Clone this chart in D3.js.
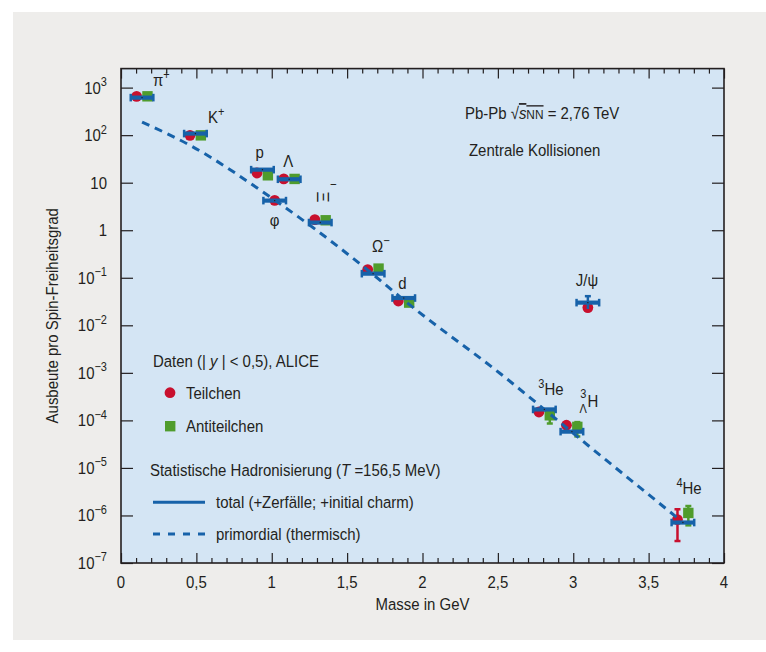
<!DOCTYPE html>
<html>
<head>
<meta charset="utf-8">
<script src="https://cdn.jsdelivr.net/npm/d3@7/dist/d3.min.js"></script>
<style>
body{margin:0;background:#fff;}
svg text{font-family:"Liberation Sans",Arial,sans-serif;fill:#231f20;}
</style>
</head>
<body>
<svg id="chart" width="766" height="652"></svg>
<script>
// particles, masses in GeV
var particles = ['pi','K','p','Lambda','phi','Xi','Omega','d','Jpsi','He3','H3L','He4'];
var masses = [0.1396, 0.4937, 0.9383, 1.1157, 1.0195, 1.3217, 1.6725, 1.8756, 3.0969, 2.8084, 2.9910, 3.7274];

// ALICE data, yield per spin dof
var particleYield = [656, 99, 16, 12, 4.26, 1.67, 0.149, 0.0324, 0.0236, 1.5e-4, 7.9e-5, 8.2e-7];
var antiYield = [656, 99, 14.3, 12, null, 1.62, 0.156, 0.030, null, 1.28e-4, 7.3e-5, 1.13e-6];
var particleErr = [null, null, null, null, null, null, null, null, null, null, null, [2.9e-7, 1.35e-6]];
var antiErr = [null, null, null, null, null, null, null, null, null, [8.6e-5, 1.7e-4], [4.6e-5, 9.2e-5], [6.2e-7, 1.58e-6]];

// statistical hadronisation model
var modelTotal = [616, 108, 18.8, 11.8, 4.2, 1.45, 0.122, 0.0375, 0.030, 1.7e-4, 5.8e-5, 7.1e-7];
var modelErr = [null, null, null, null, null, null, null, null, [0.022, 0.041], null, null, null];
var primordialMass = [0.140, 0.458, 1.021, 1.253, 1.638, 1.903, 2.513, 3.097, 3.687];
var primordialYield = [189, 61, 4.26, 1.27, 0.144, 0.029, 9.8e-4, 3.0e-5, 9.1e-7];

// axis ticks
var xMajor = [0, 0.5, 1, 1.5, 2, 2.5, 3, 3.5, 4];
var xLabels = ['0', '0,5', '1', '1,5', '2', '2,5', '3', '3,5', '4'];
var yExponents = [-7, -6, -5, -4, -3, -2, -1, 0, 1, 2, 3];

var blue = '#1762a9', red = '#c8102e', green = '#4f9c2c', ink = '#231f20';
var pL = 121, pR = 724, pT = 68.6, pB = 563;
var dm = 0.036;   // particle / antiparticle shifted left/right of the mass for readability
var fs = '17px', fsSup = '12.5px';
var squeeze = 0.88;  // the original uses a condensed face

var svg = d3.select('#chart');

svg.append('rect').attr('x',13).attr('y',12).attr('width',753).attr('height',628).style('fill','#eeedeb');
svg.append('rect').attr('x',pL).attr('y',pT).attr('width',pR-pL).attr('height',pB-pT).style('fill','#d4e5f4');

var x = d3.scaleLinear().domain([0,4]).range([pL,pR]);
var y = d3.scaleLog().domain([1e-7, Math.pow(10,3.4)]).range([pB,pT]);

// ticks
var xMinor = d3.range(0,4.001,0.1).filter(function(v){ return Math.abs(v*2-Math.round(v*2)) > 0.01; });
var yMajor = yExponents.map(function(e){ return Math.pow(10,e); });
var yMinor = y.ticks().filter(function(v){ return yMajor.every(function(m){ return Math.abs(v/m-1) > 1e-6; }); });

function tickAxis(axis, t, vals, size){
    var g = svg.append('g').attr('transform',t)
        .call(axis.tickValues(vals).tickSize(size).tickFormat(''));
    g.select('.domain').remove();
    g.selectAll('line').style('stroke',ink).style('stroke-width',1.2);
}
tickAxis(d3.axisBottom(x),'translate(0,'+pB+')',xMinor,-5);
tickAxis(d3.axisBottom(x),'translate(0,'+pB+')',xMajor,-10);
tickAxis(d3.axisTop(x),'translate(0,'+pT+')',xMinor,-5);
tickAxis(d3.axisTop(x),'translate(0,'+pT+')',xMajor,-10);
tickAxis(d3.axisLeft(y),'translate('+pL+',0)',yMinor,-6);
tickAxis(d3.axisLeft(y),'translate('+pL+',0)',yMajor,-12);
tickAxis(d3.axisRight(y),'translate('+pR+',0)',yMinor,-6);
tickAxis(d3.axisRight(y),'translate('+pR+',0)',yMajor,-12);

svg.append('rect').attr('x',pL).attr('y',pT).attr('width',pR-pL).attr('height',pB-pT)
    .style('fill','none').style('stroke',ink).style('stroke-width',1.6);

// tick labels
svg.selectAll('.xlab').data(xMajor).enter().append('text')
    .attr('x',function(d){ return x(d); }).attr('y',pB+25)
    .attr('text-anchor','middle').style('font-size',fs)
    .text(function(d,i){ return xLabels[i]; });

var ylab = svg.selectAll('.ylab').data(yExponents).enter().append('text')
    .attr('x',107).attr('y',function(d){ return y(Math.pow(10,d))+6; })
    .attr('text-anchor','end').style('font-size',fs);
ylab.each(function(e){
    var t = d3.select(this);
    if(e === 0){ t.text('1'); return; }
    if(e === 1){ t.text('10'); return; }
    t.append('tspan').text('10');
    t.append('tspan').attr('dy',-7.5).style('font-size',fsSup).text(e < 0 ? '\u2212'+(-e) : e);
});

svg.append('text').attr('x',(pL+pR)/2).attr('y',610).attr('text-anchor','middle')
    .style('font-size',fs).text('Masse in GeV');
svg.append('text').attr('transform','translate(58,'+((pT+pB)/2)+') rotate(-90)')
    .attr('text-anchor','middle').style('font-size',fs).text('Ausbeute pro Spin-Freiheitsgrad');

// data points
var idx = d3.range(particles.length);
function partX(i){ return x(masses[i] - (antiYield[i] === null ? 0 : dm)); }

function errBar(err, xf, color){
    svg.selectAll(null).data(idx.filter(function(i){ return err[i]; })).enter().append('g')
        .each(function(i){
            var g = d3.select(this), cx = xf(i);
            g.append('line').attr('x1',cx).attr('x2',cx).attr('y1',y(err[i][0])).attr('y2',y(err[i][1]))
                .style('stroke',color).style('stroke-width',2.5);
            [err[i][0], err[i][1]].forEach(function(v){
                g.append('line').attr('x1',cx-3).attr('x2',cx+3).attr('y1',y(v)).attr('y2',y(v))
                    .style('stroke',color).style('stroke-width',2.5);
            });
        });
}
errBar(particleErr, partX, red);
errBar(antiErr, function(i){ return x(masses[i]+dm); }, green);

svg.selectAll('.anti').data(idx.filter(function(i){ return antiYield[i] !== null; })).enter().append('rect')
    .attr('x',function(i){ return x(masses[i]+dm)-5.2; })
    .attr('y',function(i){ return y(antiYield[i])-5.2; })
    .attr('width',10.4).attr('height',10.4).style('fill',green);

svg.selectAll('.part').data(idx).enter().append('circle')
    .attr('cx',partX)
    .attr('cy',function(i){ return y(particleYield[i]); })
    .attr('r',5.4).style('fill',red);

// primordial (thermal) curve
var line = d3.line().curve(d3.curveMonotoneX)
    .x(function(d,i){ return x(primordialMass[i]); })
    .y(function(d){ return y(d); });
svg.append('path').attr('d',line(primordialYield))
    .style('fill','none').style('stroke',blue).style('stroke-width',3).style('stroke-dasharray','8,6');

// total model: horizontal bars
var hw = 0.075;
svg.selectAll('.model').data(idx).enter().append('g')
    .each(function(i){
        var g = d3.select(this), cy = y(modelTotal[i]);
        if(modelErr[i]){
            g.append('line').attr('x1',x(masses[i])).attr('x2',x(masses[i]))
                .attr('y1',y(modelErr[i][0])).attr('y2',y(modelErr[i][1]))
                .style('stroke',blue).style('stroke-width',2.5);
            g.append('line').attr('x1',x(masses[i])-3).attr('x2',x(masses[i])+3)
                .attr('y1',y(modelErr[i][1])).attr('y2',y(modelErr[i][1]))
                .style('stroke',blue).style('stroke-width',2.5);
        }
        g.append('line').attr('x1',x(masses[i]-hw)).attr('x2',x(masses[i]+hw)).attr('y1',cy).attr('y2',cy)
            .style('stroke',blue).style('stroke-width',4.2);
        [masses[i]-hw, masses[i]+hw].forEach(function(m){
            g.append('line').attr('x1',x(m)).attr('x2',x(m)).attr('y1',cy-3.8).attr('y2',cy+3.8)
                .style('stroke',blue).style('stroke-width',2.5);
        });
        g.append('rect').attr('x',x(masses[i])-0.6).attr('y',cy-0.6).attr('width',1.2).attr('height',1.2).style('fill',ink);
    });

// particle labels, placed relative to the model bar
var labelLayout = {
    pi:    {dx:11,  dy:-12, parts:[['\u03c0'],['+','sup']]},
    K:     {dx:12.5,dy:-10.5, parts:[['K'],['+','sup']]},
    p:     {dx:-7,  dy:-12, parts:[['p']]},
    Lambda:{dx:-6,  dy:-12.5, parts:[['\u039b']]},
    phi:   {dx:-5,  dy:25,  parts:[['\u03c6']]},
    Omega: {dx:-1,  dy:-21.5, parts:[['\u03a9'],['\u2212','sup']]},
    d:     {dx:-5.5,dy:-9.5, parts:[['d']]},
    Jpsi:  {dx:-12, dy:-17, parts:[['J/\u03c8']]},
    He3:   {dx:-6,  dy:-14, parts:[['3','pre'],['He']]},
    He4:   {dx:-6.5,dy:-29, parts:[['4','pre'],['He']]}
};
particles.forEach(function(p,i){
    var L = labelLayout[p];
    if(!L){ return; }
    var t = svg.append('text').attr('x',x(masses[i])+L.dx).attr('y',y(modelTotal[i])+L.dy).style('font-size',fs);
    var shifted = false;
    L.parts.forEach(function(pt){
        var s = t.append('tspan').text(pt[0]);
        if(pt[1] === 'sup' || pt[1] === 'pre'){ s.attr('dy',-7).style('font-size',fsSup); shifted = true; }
        else if(shifted){ s.attr('dy',7); shifted = false; }
    });
});
// Xi minus, drawn rotated as in the original
var xiI = particles.indexOf('Xi');
svg.append('text').attr('transform','translate('+(x(masses[xiI])+3)+','+(y(modelTotal[xiI])-25.5)+') rotate(90)')
    .attr('text-anchor','middle').attr('dy','0.35em').style('font-size',fs).text('\u039e');
svg.append('text').attr('x',x(masses[xiI])+13).attr('y',y(modelTotal[xiI])-34).attr('text-anchor','middle')
    .style('font-size','13px').text('\u2212');
// hypertriton
var hI = particles.indexOf('H3L');
var hx = x(masses[hI]), hy = y(modelTotal[hI]);
svg.append('text').attr('x',hx+8.3).attr('y',hy-34).style('font-size',fsSup).text('3');
svg.append('text').attr('x',hx+7.6).attr('y',hy-18.6).style('font-size',fsSup).text('\u039b');
svg.append('text').attr('x',hx+15.6).attr('y',hy-24.6).style('font-size',fs).text('H');

// header text
var head = svg.append('text').attr('x',465).attr('y',119).style('font-size',fs);
head.append('tspan').text('Pb-Pb   \u221a');
head.append('tspan').style('font-style','italic').style('text-decoration','overline').text('s');
head.append('tspan').style('font-size','13.5px').style('text-decoration','overline').text('NN');
head.append('tspan').text('  =  2,76 TeV');
svg.append('text').attr('x',469).attr('y',156).style('font-size',fs).text('Zentrale Kollisionen');

// legend
var lg = svg.append('g');
var t1 = lg.append('text').attr('x',153).attr('y',367).style('font-size',fs);
t1.append('tspan').text('Daten  (|');
t1.append('tspan').style('font-style','italic').text(' y ');
t1.append('tspan').text('| < 0,5), ALICE');
lg.append('circle').attr('cx',170).attr('cy',392.7).attr('r',5.4).style('fill',red);
lg.append('text').attr('x',186).attr('y',399).style('font-size',fs).text('Teilchen');
lg.append('rect').attr('x',165).attr('y',421).attr('width',10.4).attr('height',10.4).style('fill',green);
lg.append('text').attr('x',186).attr('y',432).style('font-size',fs).text('Antiteilchen');
var t2 = lg.append('text').attr('x',150).attr('y',476).style('font-size',fs);
t2.append('tspan').text('Statistische Hadronisierung (');
t2.append('tspan').style('font-style','italic').text('T');
t2.append('tspan').text(' =156,5 MeV)');
lg.append('line').attr('x1',153).attr('x2',205).attr('y1',502.3).attr('y2',502.3)
    .style('stroke',blue).style('stroke-width',3);
lg.append('text').attr('x',216).attr('y',508).style('font-size',fs).text('total (+Zerf\u00e4lle; +initial charm)');
lg.append('line').attr('x1',153).attr('x2',205).attr('y1',534).attr('y2',534)
    .style('stroke',blue).style('stroke-width',3).style('stroke-dasharray','7,8');
lg.append('text').attr('x',216).attr('y',540).style('font-size',fs).text('primordial (thermisch)');

// squeeze all text horizontally around its anchor
svg.selectAll('text').each(function(){
    var t = d3.select(this), tr = t.attr('transform');
    if(tr){
        if(tr.indexOf('rotate(90)') < 0){ t.attr('transform', tr+' scale('+squeeze+',1)'); }
    } else {
        var x0 = +t.attr('x') || 0;
        t.attr('x', x0/squeeze).attr('transform','scale('+squeeze+',1)');
    }
});
</script>
</body>
</html>
